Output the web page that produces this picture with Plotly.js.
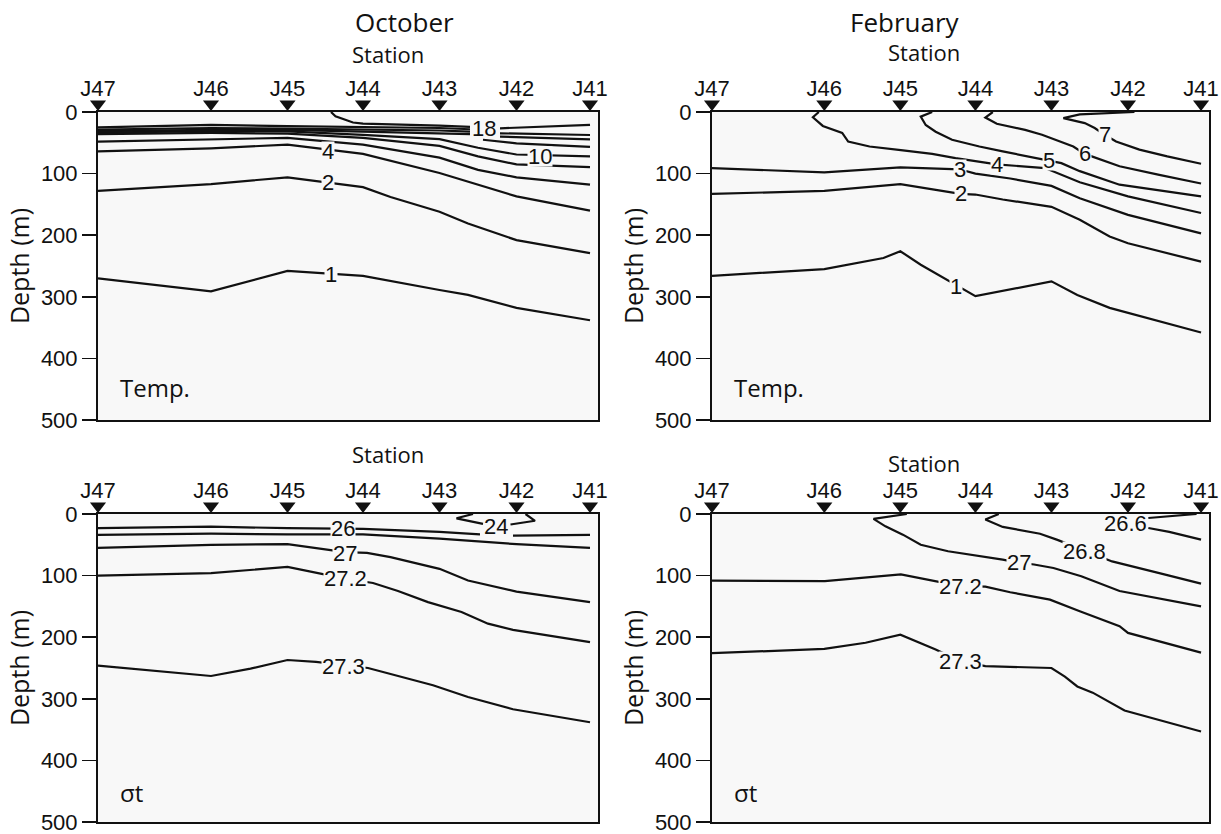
<!DOCTYPE html>
<html><head><meta charset="utf-8">
<script src="https://cdn.plot.ly/plotly-3.0.1.min.js"></script>
<style>html,body{margin:0;padding:0;background:#fff}#chart{width:1221px;height:834px}</style>
</head><body><div id="chart"></div>
<script>
// ---------- shared axis data ----------
const stationNames = ['J47','J46','J45','J44','J43','J42','J41'];
const stationDist  = [0, 22.6, 37.9, 53.0, 68.3, 83.7, 98.4];
const depthTicks   = [0, 100, 200, 300, 400, 500];

// ---------- October, temperature (x = distance, depth in m) ----------
const octTempLevels = ['1','2','4','6','8','10','12','14','16','18'];
const octTempX = [
  [0,22.6,37.9,53,68.3,74,83.7,98.4],
  [0,22.6,37.9,53,58.5,68.3,74,83.7,98.4],
  [0,22.6,37.9,43,53,68.3,83.7,98.4],
  [0,22.6,37.9,53,68.3,76,83.7,98.4],
  [0,22.6,37.9,53,68.3,76,83.7,98.4],
  [0,22.6,37.9,53,68.3,76,83.7,98.4],
  [0,22.6,37.9,53,68.3,74.4,null,77,83.7,98.4],
  [0,22.6,37.9,53,68.3,74.4,null,80.4,98.4],
  [0,22.6,37.9,53,68.3,74.4,null,80.4,98.4],
  [46.6,47.5,51,53,68.3,74.4,null,80.4,98.4]
];
const octTempDepth = [
  [270,291,258,266,289,297,318,338],
  [128,117,106,122,138,162,181,208,229],
  [64,59,53,58,68,99,137,160],
  [48,44,42,53,74,94,106,118],
  [36,34,35,42,55,72,85,89.6],
  [33.5,31,31.5,37,44,58,69,72],
  [31,29,29,32,34,36,null,45,51,56.5],
  [28.5,26,27,28,30,32,null,40,44.4],
  [25,21,23,24,26,28,null,34.6,37.3],
  [0,7,17,19,22,24,null,26.5,21]
];
const octTempLabelText  = ['18','10','4','2','1'];
const octTempLabelX     = [77.2, 88.4, 46, 46, 46.6];
const octTempLabelDepth = [27, 71.5, 64, 114, 264];
const octTempLabelBg    = [false, true, true, true, true];

// ---------- February, temperature ----------
const febTempLevels = ['1','2','3','4','5','6','7'];
const febTempX = [
  [0,22.6,34.5,37.9,42,53,68.3,73.5,80,98.4],
  [0,22.6,37.9,50,53,58.5,68.3,74,80,83.7,98.4],
  [0,22.6,37.9,45,49.8,53,60,68.3,74,83.7,98.4],
  [21.5,20.3,22.3,26.2,27.4,31.7,38,44.3,49,57.3,67,74,83.7,98.4],
  [44.3,42,43,45,48.3,53.8,58.5,67.8,70.3,74,82,98.4],
  [56.5,55,57.3,63,66.4,70.3,72.7,75,78,82,90,98.4],
  [85,74,70.7,75,77,79,81.3,86,91.6,98.4]
];
const febTempDepth = [
  [266,255,237,226,248,299,275,297,318,358],
  [133,128,117,133,134,142,154,175,202,213,243],
  [91,98,90,92,93,100,108,120,140,167,197],
  [0,8.6,22.6,34,48,56,62,68,75,85,91,114,137,164],
  [0,7.5,21,32,45,56,64,78,83,96,118,137],
  [0,9,19,29,37,48,56,68,77,88,102,116],
  [0,4,10,18,26,37,48,61,72,84]
];
const febTempLabelText  = ['7','6','5','4','3','2','1'];
const febTempLabelX     = [79, 75, 67.8, 57.3, 49.8, 50, 49];
const febTempLabelDepth = [37, 68, 78, 85, 93, 133, 283];
const febTempLabelBg    = [true, true, true, true, true, true, true];

// ---------- October, sigma-t ----------
const octSigLevels = ['24','26a','26b','27','27.2','27.3'];
const octSigX = [
  [75,71.7,77,null,82.5,87.4,85.5],
  [0,22.6,37.9,53,68.3,76.4,null,83,98.4],
  [0,22.6,37.9,53,68.3,83.7,98.4],
  [0,22.6,37.9,49.4,53.8,58.5,68.3,74,83.7,98.4],
  [0,22.6,37.9,49.4,55,60,66,72.7,78,83,98.4],
  [0,22.6,30.5,37.9,43.6,49,54,67,74,83,98.4]
];
const octSigDepth = [
  [0,7,16,null,17,11,0],
  [23,20.5,23,24,29,33,null,35,34],
  [34,32,33,33,40,49,55],
  [55,50,49,62,63,70,89,108,126,143],
  [100,96,86,105,112,125,143,159,178,188,208],
  [246,263,251,237,240,245,250,278,297,317,338]
];
const octSigLabelText  = ['24','26','27','27.2','27.3'];
const octSigLabelX     = [79.6, 49, 49.4, 49.4, 49];
const octSigLabelDepth = [21, 24, 64, 105, 248];
const octSigLabelBg    = [false, true, true, true, true];

// ---------- February, sigma-t ----------
const febSigLevels = ['26.6','26.8','27','27.2','27.3'];
const febSigX = [
  [97.5,92,87.8,null,87.8,92,98.4],
  [57.7,55,58.5,66,69.5,75,80.5,90,98.4],
  [39.2,32.5,34.9,38.4,42,47.5,58.5,61.7,64.8,68.7,74.3,82,98.4],
  [0,22.7,38,50,55,60,68,74,82,83.7,98.4],
  [0,22.6,30.9,37.9,45,50,55,68.3,71,73.5,76.6,83,98.4]
];
const febSigDepth = [
  [0,3.5,6.5,null,22.7,29,41.6],
  [0,9,21,32,42,60,77,96,113],
  [0,8,20,33.5,50,60.5,74,79,82,87.6,101,125,150],
  [108,109,98,117,118,127,139,158,182,193,225],
  [226,219,209,196,220,239,247,250,264,280,290,319,353]
];
const febSigLabelText  = ['26.6','26.8','27','27.2','27.3'];
const febSigLabelX     = [83.2, 75, 61.7, 50, 50];
const febSigLabelDepth = [15, 61, 79, 117, 240];
const febSigLabelBg    = [false, true, true, true, true];

// ---------- styling ----------
const NUM = '"Liberation Sans", Arial, sans-serif';
const SANS = '"Open Sans", "Noto Sans", sans-serif';
const INK = '#111';
const PLOTBG = '#f8f8f8';

const panels = [
  {xa:'x',  ya:'y',  sa:'y5', X:octTempX, D:octTempDepth, LT:octTempLabelText, LX:octTempLabelX, LD:octTempLabelDepth, LB:octTempLabelBg},
  {xa:'x2', ya:'y2', sa:'y6', X:febTempX, D:febTempDepth, LT:febTempLabelText, LX:febTempLabelX, LD:febTempLabelDepth, LB:febTempLabelBg},
  {xa:'x3', ya:'y3', sa:'y7', X:octSigX,  D:octSigDepth,  LT:octSigLabelText,  LX:octSigLabelX,  LD:octSigLabelDepth,  LB:octSigLabelBg},
  {xa:'x4', ya:'y4', sa:'y8', X:febSigX,  D:febSigDepth,  LT:febSigLabelText,  LX:febSigLabelX,  LD:febSigLabelDepth,  LB:febSigLabelBg}
];

const traces = [];
const annotations = [];
const shapes = [];
panels.forEach(p => {
  // light section background
  shapes.push({type:'rect', xref:p.xa + ' domain', yref:p.ya + ' domain', x0:0, x1:1, y0:0, y1:1,
    fillcolor:PLOTBG, line:{width:0}, layer:'below'});
  p.X.forEach((xs, i) => {
    traces.push({type:'scatter', mode:'lines', x:xs, y:p.D[i], xaxis:p.xa, yaxis:p.ya,
      line:{color:INK, width:2.2}, connectgaps:false, hoverinfo:'skip', showlegend:false});
  });
  // station triangles in a thin strip just above the section, sharing the x axis
  traces.push({type:'scatter', mode:'markers', x:stationDist, y:stationDist.map(() => 0),
    xaxis:p.xa, yaxis:p.sa, cliponaxis:false, hoverinfo:'skip', showlegend:false,
    marker:{symbol:'triangle-down', size:14, color:INK}});
  p.LT.forEach((t, i) => {
    annotations.push({xref:p.xa, yref:p.ya, x:p.LX[i], y:p.LD[i], text:t, showarrow:false,
      font:{family:NUM, size:22, color:INK}, bgcolor: p.LB[i] ? PLOTBG : 'rgba(0,0,0,0)',
      borderpad:0, height:19});
  });
});

// panel captions, column titles and "Station" headers
const TXT = (xref, yref, x, y, text, size, extra) => Object.assign({xref, yref, x, y, text,
  showarrow:false, yanchor:'middle', font:{family:SANS, size, color:INK}}, extra || {});
annotations.push(TXT('x',  'y',  4, 448, 'Temp.', 24, {xanchor:'left'}));
annotations.push(TXT('x2', 'y2', 4, 448, 'Temp.', 24, {xanchor:'left'}));
annotations.push(TXT('x3', 'y3', 4, 452, 'σt', 24, {xanchor:'left'}));
annotations.push(TXT('x4', 'y4', 4, 452, 'σt', 24, {xanchor:'left'}));
annotations.push(TXT('paper', 'paper', 353/1221, 1-22/834, 'October', 26));
annotations.push(TXT('paper', 'paper', 962/1221, 1-22/834, 'February', 26));
annotations.push(TXT('paper', 'paper', 350/1221, 1-54/834, 'Station', 22));
annotations.push(TXT('paper', 'paper', 962/1221, 1-52/834, 'Station', 22));
annotations.push(TXT('paper', 'paper', 350/1221, 1-454/834, 'Station', 22));
annotations.push(TXT('paper', 'paper', 962/1221, 1-463/834, 'Station', 22));

function xAx(dom, anchor) {
  return {domain:dom, anchor:anchor, side:'top', range:[0,100], tickmode:'array',
    tickvals:stationDist, ticktext:stationNames, ticks:'outside', ticklen:5, tickcolor:'rgba(0,0,0,0)',
    tickfont:{family:NUM, size:22, color:INK}, showline:true, mirror:true, linewidth:2, linecolor:INK,
    showgrid:false, zeroline:false, fixedrange:true, ticklabeloverflow:'allow'};
}
function yAx(dom, anchor) {
  return {domain:dom, anchor:anchor, range:[500,0], tickmode:'array', tickvals:depthTicks,
    ticks:'outside', ticklen:14, tickwidth:1.5, tickcolor:INK, ticklabeloverflow:'allow',
    tickfont:{family:NUM, size:22, color:INK}, showline:true, mirror:true, linewidth:2, linecolor:INK,
    showgrid:false, zeroline:false, fixedrange:true,
    title:{text:'Depth (m)', font:{family:SANS, size:25, color:INK}, standoff:4}};
}
function stripAx(dom, anchor) {
  return {domain:dom, anchor:anchor, range:[-1,1], visible:false, fixedrange:true};
}

const XL = [98/1221, 598/1221], XR = [712/1221, 1209/1221];
const YT = [1-420/834, 1-112/834], YB = [1-822/834, 1-514/834];
const ST = [1-111/834, 1-97/834],  SB = [1-513/834, 1-499/834];

const layout = {
  width:1221, height:834, margin:{l:0, r:0, t:0, b:0},
  paper_bgcolor:'#ffffff', plot_bgcolor:'#ffffff', showlegend:false,
  xaxis: xAx(XL,'y'),  yaxis: yAx(YT,'x'),
  xaxis2:xAx(XR,'y2'), yaxis2:yAx(YT,'x2'),
  xaxis3:xAx(XL,'y3'), yaxis3:yAx(YB,'x3'),
  xaxis4:xAx(XR,'y4'), yaxis4:yAx(YB,'x4'),
  yaxis5:stripAx(ST,'x'), yaxis6:stripAx(ST,'x2'),
  yaxis7:stripAx(SB,'x3'), yaxis8:stripAx(SB,'x4'),
  shapes:shapes, annotations:annotations
};

Plotly.newPlot('chart', traces, layout, {staticPlot:true, displayModeBar:false});
</script>
</body></html>
